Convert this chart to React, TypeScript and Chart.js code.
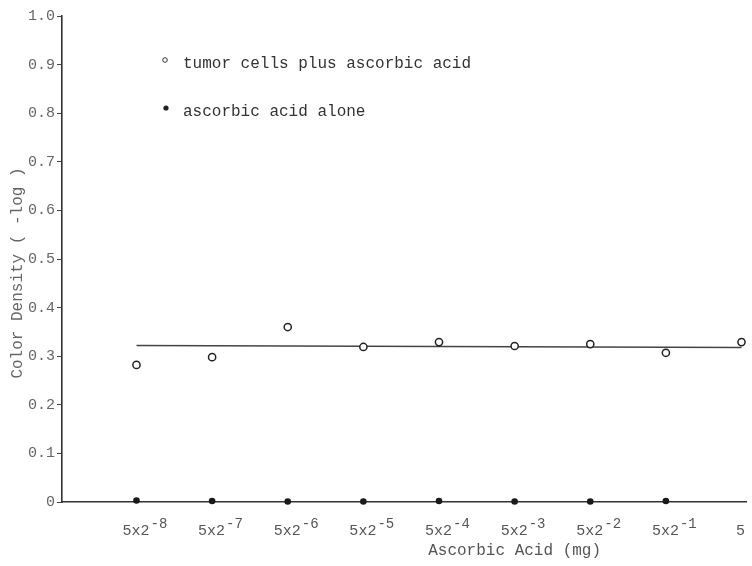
import React, { useEffect, useRef } from "react";
import { Chart, registerables } from "chart.js";

Chart.register(...registerables);

// ---- data ----
const doseBases = ["5x2", "5x2", "5x2", "5x2", "5x2", "5x2", "5x2", "5x2", "5"];
const doseExponents = ["-8", "-7", "-6", "-5", "-4", "-3", "-2", "-1", ""];
const tumorPlusAcid = [0.282, 0.298, 0.36, 0.319, 0.329, 0.321, 0.325, 0.307, 0.329];
const acidAlone = [0.003, 0.002, 0.001, 0.001, 0.002, 0.001, 0.001, 0.002];
const fitLineEnds = [0.322, 0.318];
const yTickValues = [0, 0.1, 0.2, 0.3, 0.4, 0.5, 0.6, 0.7, 0.8, 0.9, 1.0];

const seriesTumor = "tumor cells plus ascorbic acid";
const seriesAcid = "ascorbic acid alone";
const yTitle = "Color Density ( -log )";
const xTitle = "Ascorbic Acid (mg)";

const FONT = "'Liberation Mono', 'DejaVu Sans Mono', monospace";

const annotatePlugin = {
  id: "annotate",
  afterDraw(chart: any) {
    const { ctx, chartArea, scales } = chart;
    const xs = scales.x;
    ctx.save();

    // x tick labels with superscript exponents
    ctx.fillStyle = "#555";
    ctx.textBaseline = "alphabetic";
    doseBases.forEach((base, i) => {
      const px = xs.getPixelForValue(i);
      const exp = doseExponents[i];
      ctx.font = `15px ${FONT}`;
      if (exp) {
        ctx.textAlign = "left";
        const x0 = px - 14;
        ctx.fillText(base, x0, chartArea.bottom + 33);
        const w = ctx.measureText(base).width;
        ctx.font = `14px ${FONT}`;
        ctx.fillText(exp, x0 + w + 1, chartArea.bottom + 26);
      } else {
        ctx.textAlign = "center";
        ctx.fillText(base, px - 1, chartArea.bottom + 33);
      }
    });

    // x axis title
    ctx.font = `16px ${FONT}`;
    ctx.textAlign = "center";
    ctx.fillStyle = "#555";
    ctx.fillText(xTitle, xs.getPixelForValue(5), chartArea.bottom + 53);

    // y axis title
    ctx.save();
    ctx.translate(18, chartArea.top + 257);
    ctx.rotate(-Math.PI / 2);
    ctx.textAlign = "center";
    ctx.textBaseline = "middle";
    ctx.fillStyle = "#666";
    ctx.fillText(yTitle, 0, 0);
    ctx.restore();

    // in-plot legend
    const lx = chartArea.left + 103;
    const ly1 = chartArea.top + 47;
    const ly2 = chartArea.top + 96;
    ctx.strokeStyle = "#333";
    ctx.lineWidth = 1;
    ctx.beginPath();
    ctx.arc(lx, ly1 - 3, 2.3, 0, Math.PI * 2);
    ctx.stroke();
    ctx.fillStyle = "#222";
    ctx.beginPath();
    ctx.arc(lx + 1, ly2 - 4, 2.6, 0, Math.PI * 2);
    ctx.fill();
    ctx.font = `16px ${FONT}`;
    ctx.textAlign = "left";
    ctx.textBaseline = "middle";
    ctx.fillStyle = "#333";
    ctx.fillText(seriesTumor, lx + 18, ly1 + 1);
    ctx.fillText(seriesAcid, lx + 18, ly2);

    ctx.restore();
  },
};

export default function App() {
  const canvasRef = useRef<HTMLCanvasElement | null>(null);

  useEffect(() => {
    if (!canvasRef.current) return;
    const chart = new Chart(canvasRef.current, {
      type: "scatter",
      data: {
        datasets: [
          {
            type: "line",
            label: "fit",
            data: [
              { x: 0, y: fitLineEnds[0] },
              { x: doseBases.length - 1, y: fitLineEnds[1] },
            ],
            borderColor: "#444",
            borderWidth: 1.4,
            pointRadius: 0,
            fill: false,
            order: 3,
          },
          {
            label: seriesAcid,
            data: acidAlone.map((v, i) => ({ x: i, y: v })),
            backgroundColor: "#1a1a1a",
            borderColor: "#1a1a1a",
            borderWidth: 0,
            pointRadius: 3.3,
            clip: false,
            order: 2,
          },
          {
            label: seriesTumor,
            data: tumorPlusAcid.map((v, i) => ({ x: i, y: v })),
            backgroundColor: "#ffffff",
            borderColor: "#222",
            borderWidth: 1.5,
            pointRadius: 3.6,
            clip: false,
            order: 1,
          },
        ] as any,
      },
      options: {
        animation: false,
        responsive: false,
        layout: { padding: { top: 16, right: 1, left: 0, bottom: 0 } },
        plugins: {
          legend: { display: false },
          tooltip: { enabled: false },
        },
        scales: {
          x: {
            type: "linear",
            min: -0.985,
            max: 8.066,
            afterFit: (s: any) => {
              s.height = 64;
            },
            ticks: { display: false },
            grid: { display: false },
            border: { display: true, color: "#333", width: 1.6 },
          },
          y: {
            type: "linear",
            min: 0,
            max: 1,
            afterFit: (s: any) => {
              s.width = 62;
            },
            afterBuildTicks: (s: any) => {
              s.ticks = yTickValues.map((v) => ({ value: v }));
            },
            ticks: {
              padding: 2,
              color: "#666",
              font: { family: FONT, size: 15 },
              callback: (v: any) => (Number(v) === 0 ? "0" : Number(v).toFixed(1)),
            },
            grid: {
              display: true,
              drawOnChartArea: false,
              drawTicks: true,
              tickLength: 5,
              tickColor: "#444",
              tickWidth: 1,
            },
            border: { display: true, color: "#333", width: 1.6 },
          },
        },
      } as any,
      plugins: [annotatePlugin],
    });
    return () => chart.destroy();
  }, []);

  return (
    <div
      style={{
        position: "fixed",
        left: 0,
        top: 0,
        width: 752,
        height: 566,
        background: "#ffffff",
      }}
    >
      <canvas ref={canvasRef} width={752} height={566} />
    </div>
  );
}
